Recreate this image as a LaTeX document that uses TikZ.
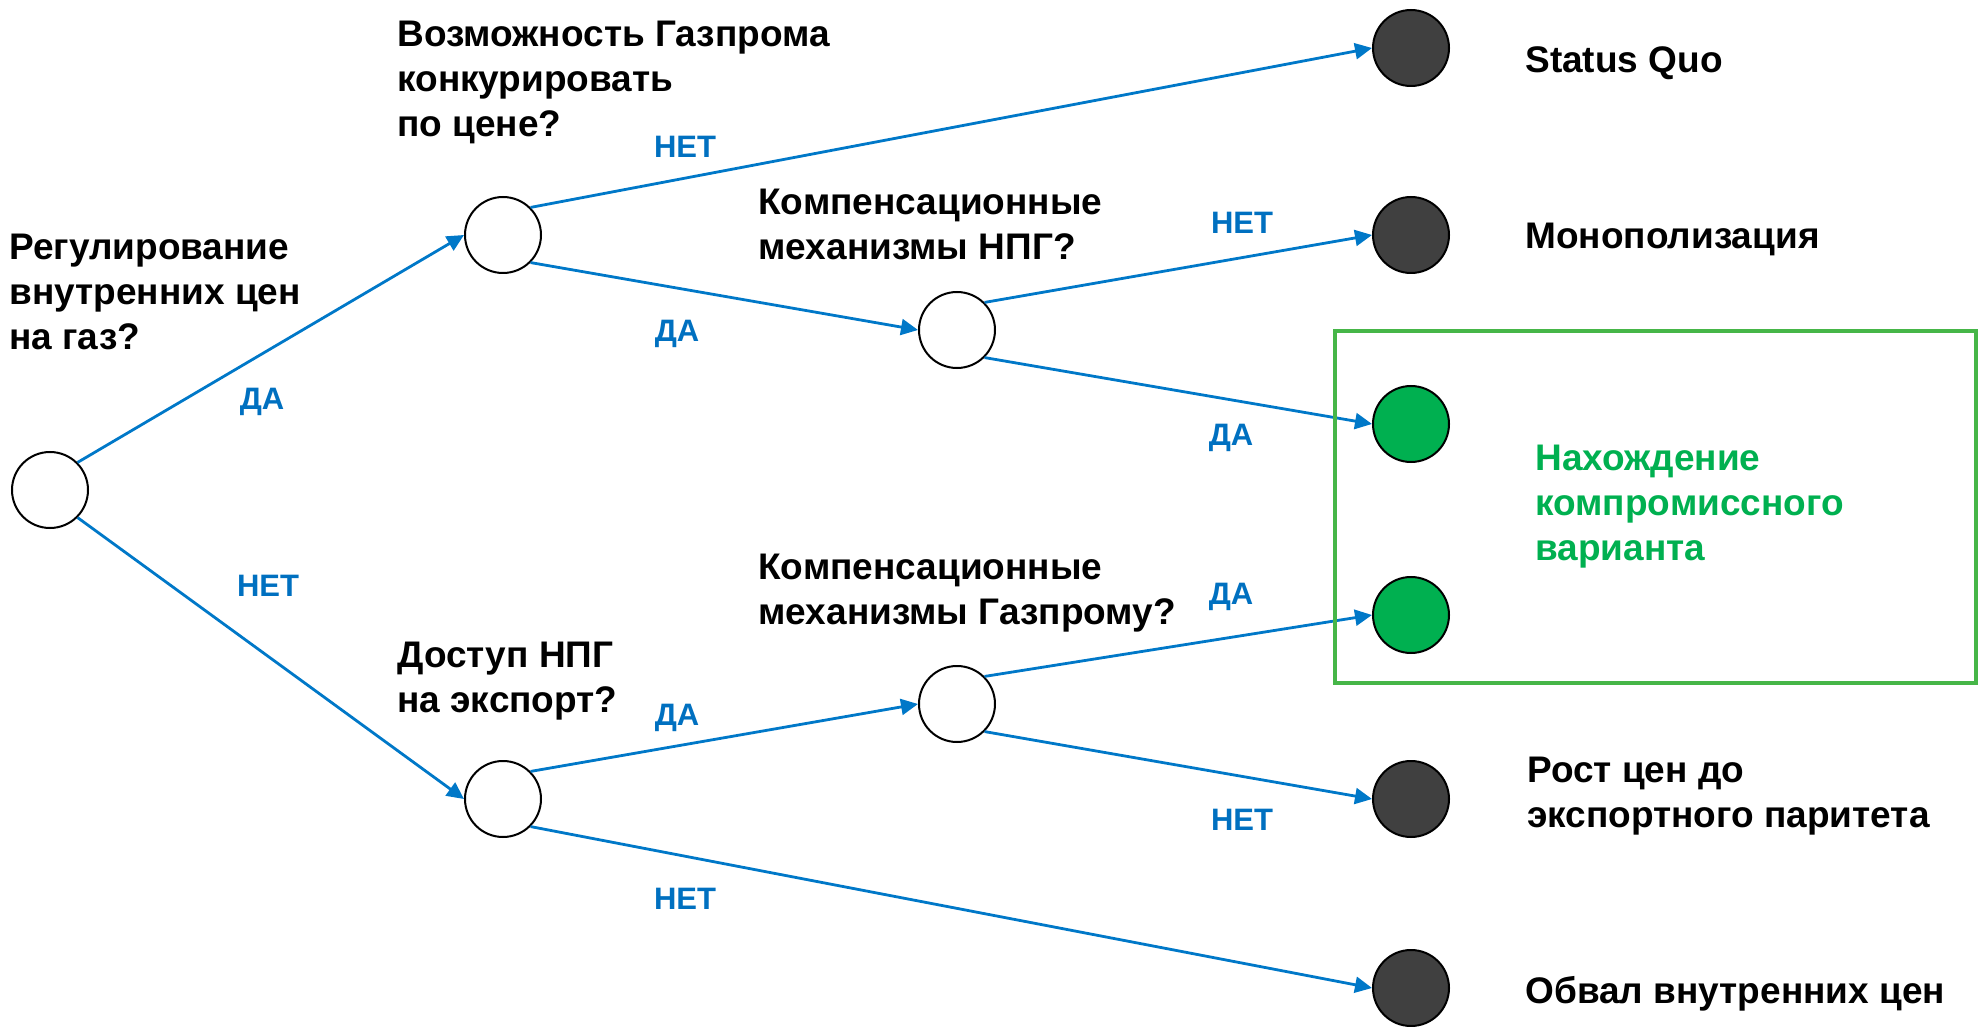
\documentclass[tikz,border=0pt]{standalone}
\usepackage{fontspec}
\setmainfont{Liberation Sans}
\usetikzlibrary{arrows.meta}
\definecolor{lineblue}{RGB}{0,120,200}
\definecolor{lblblue}{RGB}{0,112,192}
\definecolor{leafgreen}{RGB}{0,176,80}
\definecolor{boxgreen}{RGB}{70,182,72}
\definecolor{leafdark}{RGB}{64,64,64}
\begin{document}
\begin{tikzpicture}[x=0.5pt,y=-0.5pt,
  dec/.style={circle,draw=black,line width=1pt,fill=white,minimum size=38pt,inner sep=0pt},
  leafdk/.style={dec,fill=leafdark},
  leafgr/.style={dec,fill=leafgreen},
  conn/.style={draw=lineblue,line width=1.4pt,-{Triangle[length=8.5pt,width=8pt]}},
  qtext/.style={anchor=base west,align=left,font=\fontsize{18.5}{22.5}\selectfont\bfseries,inner sep=0pt},
  lbl/.style={font=\fontsize{15.5}{18}\selectfont\bfseries,text=lblblue,inner sep=0pt}]
\useasboundingbox (0,0) rectangle (1983,1027);
% decision nodes
\node[dec] (r) at (50,490) {};
\node[dec] (a) at (503,235) {};
\node[dec] (b) at (503,799) {};
\node[dec] (c) at (957,330) {};
\node[dec] (d) at (957,704) {};
% outcome nodes
\node[leafdk] (sq) at (1411,48) {};
\node[leafdk] (mo) at (1411,235) {};
\node[leafgr] (g1) at (1411,424) {};
\node[leafgr] (g2) at (1411,615) {};
\node[leafdk] (ro) at (1411,799) {};
\node[leafdk] (ob) at (1411,988) {};
% connectors
\draw[conn] (r.north east) -- (a.west);
\draw[conn] (r.south east) -- (b.west);
\draw[conn] (a.north east) -- (sq.west);
\draw[conn] (a.south east) -- (c.west);
\draw[conn] (c.north east) -- (mo.west);
\draw[conn] (c.south east) -- (g1.west);
\draw[conn] (b.north east) -- (d.west);
\draw[conn] (b.south east) -- (ob.west);
\draw[conn] (d.north east) -- (g2.west);
\draw[conn] (d.south east) -- (ro.west);
% compromise box
\node[draw=boxgreen,line width=1.75pt,minimum width=320.5pt,minimum height=176pt,inner sep=0pt] (box) at (1655.5,507) {};
% question texts (anchored at the baseline of their last line)
\node[qtext] (q1) at (9,350) {Регулирование\\внутренних цен\\на газ?};
\node[qtext] (q2) at (397,137) {Возможность Газпрома\\конкурировать\\по цене?};
\node[qtext] (q3) at (758,260) {Компенсационные\\механизмы НПГ?};
\node[qtext] (q4) at (758,624) {Компенсационные\\механизмы Газпрому?};
\node[qtext] (q5) at (397,712) {Доступ НПГ\\на экспорт?};
% outcome texts
\node[qtext] (o1) at (1525,73) {Status Quo};
\node[qtext] (o2) at (1525,249) {Монополизация};
\node[qtext,text=leafgreen] (o3) at (1535,560) {Нахождение\\компромиссного\\варианта};
\node[qtext] (o4) at (1527,827) {Рост цен до\\экспортного паритета};
\node[qtext] (o5) at (1525,1003) {Обвал внутренних цен};
% branch labels
\node[lbl] (l1) at (262,402) {ДА};
\node[lbl] (l2) at (268,586) {НЕТ};
\node[lbl] (l3) at (685,147) {НЕТ};
\node[lbl] (l4) at (677,334) {ДА};
\node[lbl] (l5) at (1242,223) {НЕТ};
\node[lbl] (l6) at (1231,438) {ДА};
\node[lbl] (l7) at (1231,597) {ДА};
\node[lbl] (l8) at (1242,820) {НЕТ};
\node[lbl] (l9) at (677,718) {ДА};
\node[lbl] (l10) at (685,899) {НЕТ};
\end{tikzpicture}
\end{document}
